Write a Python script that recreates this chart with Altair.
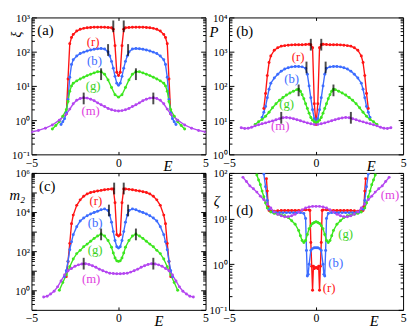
import math
import altair as alt
import pandas as pd

RED, BLUE, GREEN, MAGENTA = "#ff1414", "#3c6cff", "#3ce61e", "#b446f0"
TXT = {"r": "#ff1414", "b": "#3c6cff", "g": "#3cd21e", "m": "#e040e0"}
SERIES = ["r", "b", "g", "m"]
FONT = "Liberation Serif"
W, H = 178, 140

# ---------------- panel (a): xi ----------------
a_r_E = [-3.0,-2.9,-2.8,-2.7,-2.6,-2.4,-2.2,-2.0,-1.8,-1.6,-1.4,-1.2,-1.0,-0.8,-0.6,-0.4,-0.3,-0.2,-0.1,0.0,
         0.1,0.2,0.3,0.4,0.6,0.8,1.0,1.2,1.4,1.6,1.8,2.0,2.2,2.4,2.6,2.7,2.8,2.9,3.0]
a_r_v = [1.5,16,170,260,320,400,450,480,500,510,520,520,520,515,510,500,450,150,25,20,
         25,150,450,500,510,515,520,520,520,510,500,480,450,400,320,260,170,16,1.5]
a_b_E = [-3.3,-3.2,-3.1,-3.0,-2.9,-2.8,-2.7,-2.6,-2.4,-2.2,-2.0,-1.8,-1.6,-1.4,-1.2,-1.0,-0.8,-0.6,-0.5,-0.4,-0.3,-0.2,-0.1,0.0,
         0.1,0.2,0.3,0.4,0.5,0.6,0.8,1.0,1.2,1.4,1.6,1.8,2.0,2.2,2.4,2.6,2.7,2.8,2.9,3.0,3.1,3.2,3.3]
a_b_v = [0.75,0.9,1.1,1.6,4,18,42,58,75,88,97,105,112,118,122,124,120,98,75,52,33,19,12,10.5,
         12,19,33,52,75,98,120,124,122,118,112,105,97,88,75,58,42,18,4,1.6,1.1,0.9,0.75]
a_g_E = [-3.8,-3.6,-3.4,-3.2,-3.0,-2.9,-2.8,-2.7,-2.6,-2.4,-2.2,-2.0,-1.8,-1.6,-1.4,-1.2,-1.0,-0.8,-0.6,-0.4,-0.2,0.0,
         0.2,0.4,0.6,0.8,1.0,1.2,1.4,1.6,1.8,2.0,2.2,2.4,2.6,2.7,2.8,2.9,3.0,3.2,3.4,3.6,3.8]
a_g_v = [0.55,0.7,0.9,1.3,2.0,3.5,7,10,12,14,16,18,20,22,24,26,26,22,15,9,5.5,4.7,
         5.5,9,15,22,26,26,24,22,20,18,16,14,12,10,7,3.5,2.0,1.3,0.9,0.7,0.55]
a_m_E = [-5.0,-4.6,-4.2,-3.8,-3.4,-3.0,-2.8,-2.6,-2.4,-2.2,-2.0,-1.8,-1.6,-1.4,-1.2,-1.0,-0.8,-0.6,-0.4,-0.2,0.0,
         0.2,0.4,0.6,0.8,1.0,1.2,1.4,1.6,1.8,2.0,2.2,2.4,2.6,2.8,3.0,3.4,3.8,4.2,4.6,5.0]
a_m_v = [0.45,0.5,0.58,0.72,1.0,1.5,2.1,3.0,3.8,4.3,4.5,4.4,4.1,3.7,3.2,2.8,2.5,2.2,2.0,1.9,1.85,
         1.9,2.0,2.2,2.5,2.8,3.2,3.7,4.1,4.4,4.5,4.3,3.8,3.0,2.1,1.5,1.0,0.72,0.58,0.5,0.45]
a_edge_E = [-0.3, 0.3, -0.6, 0.55, -1.0, 1.0, -2.0, 2.0]
a_edge_v = [550, 550, 112, 112, 22, 22, 4.3, 4.3]
a_lab_E = [-1.46, -1.38, -1.46, -1.6]
a_lab_v = [195, 52, 10, 1.9]

# ---------------- panel (b): P ----------------
b_r_E = a_r_E
b_r_v = [22,60,200,480,750,1100,1300,1450,1500,1550,1580,1600,1600,1600,1620,1650,1600,1300,30,7.5,
         30,1300,1600,1650,1620,1600,1600,1600,1580,1550,1500,1450,1300,1100,750,480,200,60,22]
b_b_E = [-3.1,-3.0,-2.9,-2.8,-2.7,-2.6,-2.4,-2.2,-2.0,-1.8,-1.6,-1.4,-1.2,-1.0,-0.8,-0.6,-0.5,-0.4,-0.3,-0.2,-0.1,0.0,
         0.1,0.2,0.3,0.4,0.5,0.6,0.8,1.0,1.2,1.4,1.6,1.8,2.0,2.2,2.4,2.6,2.7,2.8,2.9,3.0,3.1]
b_b_v = [12,17,25,45,80,120,170,220,270,310,340,360,370,370,360,330,220,100,45,20,11,9,
         11,20,45,100,220,330,360,370,370,360,340,310,270,220,170,120,80,45,25,17,12]
b_g_E = [-3.5,-3.3,-3.1,-2.9,-2.7,-2.5,-2.3,-2.1,-1.9,-1.7,-1.5,-1.3,-1.1,-1.0,-0.9,-0.8,-0.7,-0.6,-0.5,-0.4,-0.3,-0.2,-0.1,0.0,
         0.1,0.2,0.3,0.4,0.5,0.6,0.7,0.8,0.9,1.0,1.1,1.3,1.5,1.7,1.9,2.1,2.3,2.5,2.7,2.9,3.1,3.3,3.5]
b_g_v = [7.5,9,10.5,13,17,23,30,38,46,54,62,70,78,80,70,55,42,30,22,16,12,10,9,8.5,
         9,10,12,16,22,30,42,55,70,80,78,70,62,54,46,38,30,23,17,13,10.5,9,7.5]
b_m_E = [-4.3,-4.1,-3.9,-3.7,-3.5,-3.3,-3.1,-2.9,-2.7,-2.5,-2.3,-2.1,-1.9,-1.7,-1.5,-1.3,-1.1,-0.9,-0.7,-0.5,-0.3,-0.1,
         0.1,0.3,0.5,0.7,0.9,1.1,1.3,1.5,1.7,1.9,2.1,2.3,2.5,2.7,2.9,3.1,3.3,3.5,3.7,3.9,4.1,4.3]
b_m_v = [6.0,5.7,5.8,6.2,6.8,7.3,7.8,8.3,8.9,9.5,10.2,11,11.8,12,11.6,11,10.3,9.6,8.9,8.3,7.8,7.5,
         7.5,7.8,8.3,8.9,9.6,10.3,11,11.6,12,11.8,11,10.2,9.5,8.9,8.3,7.8,7.3,6.8,6.2,5.8,5.7,6.0]
b_edge_E = [-0.3, 0.3, -0.55, 0.55, -1.0, 1.0, -2.0, 2.0]
b_edge_v = [1600, 1600, 345, 345, 74, 74, 11.7, 11.7]
b_lab_E = [-1.03, -1.4, -1.69, -2.06]
b_lab_v = [680, 160, 30, 6.5]

# ---------------- panel (c): m2 ----------------
c_r_E = a_r_E
c_r_v = [5,30,250,2500,7000,22000,42000,65000,85000,100000,110000,120000,128000,138000,145000,150000,150000,30000,700,600,
         700,30000,150000,150000,145000,138000,128000,120000,110000,100000,85000,65000,42000,22000,7000,2500,250,30,5]
c_b_E = b_b_E
c_b_v = [5,10,30,120,300,700,1800,3500,5000,6500,8000,9500,11000,13000,14500,12000,7000,3000,1000,350,170,145,
         170,350,1000,3000,7000,12000,14500,13000,11000,9500,8000,6500,5000,3500,1800,700,300,120,30,10,5]
c_g_E = [-3.4,-3.2,-3.0,-2.8,-2.6,-2.4,-2.2,-2.0,-1.8,-1.6,-1.4,-1.2,-1.0,-0.8,-0.6,-0.4,-0.3,-0.2,-0.1,0.0,
         0.1,0.2,0.3,0.4,0.6,0.8,1.0,1.2,1.4,1.6,1.8,2.0,2.2,2.4,2.6,2.8,3.0,3.2,3.4]
c_g_v = [1.0,2.5,6,16,40,75,110,170,230,320,450,600,750,600,350,160,80,45,32,30,
         32,45,80,160,350,600,750,600,450,320,230,170,110,75,40,16,6,2.5,1.0]
c_m_E = b_m_E
c_m_v = [0.45,0.5,0.65,0.9,1.5,3,6,10,13,17,20,22,23,21,18,15,12,10,8.5,7.5,7.2,7.0,
         7.0,7.2,7.5,8.5,10,12,15,18,21,23,22,20,17,13,10,6,3,1.5,0.9,0.65,0.5,0.45]
c_edge_E = [-0.25, 0.3, -0.55, 0.55, -1.0, 1.0, -2.0, 2.0]
c_edge_v = [160000, 160000, 12000, 12000, 720, 720, 23, 23]
c_lab_E = [-1.3, -1.34, -1.34, -1.57]
c_lab_v = [37000, 2700, 112, 3.9]

# ---------------- panel (d): zeta ----------------
d_r_E = [-2.85,-2.8,-2.75,-2.7,-2.6,-2.4,-2.2,-2.0,-1.8,-1.6,-1.4,-1.2,-1.0,-0.8,-0.6,-0.4,-0.35,-0.3,-0.25,-0.2,-0.15,-0.1,0.0,
         0.1,0.15,0.2,0.25,0.3,0.35,0.4,0.6,0.8,1.0,1.2,1.4,1.6,1.8,2.0,2.2,2.4,2.6,2.7,2.75,2.8,2.85]
d_r_v = [75,40,18,15,14.5,14.5,14.8,15,15,15,15,15,15,15.2,15.5,15.5,15,3,0.9,0.27,0.9,0.8,0.85,
         0.8,0.9,0.27,0.9,3,15,15.5,15.5,15.2,15,15,15,15,15,15,14.8,14.5,14.5,15,18,40,75]
d_b_E = [-3.0,-2.9,-2.8,-2.7,-2.5,-2.3,-2.1,-1.9,-1.7,-1.5,-1.3,-1.1,-0.9,-0.7,-0.6,-0.55,-0.5,-0.45,-0.4,-0.3,-0.2,-0.1,0.0,
         0.1,0.2,0.3,0.4,0.45,0.5,0.55,0.6,0.7,0.9,1.1,1.3,1.5,1.7,1.9,2.1,2.3,2.5,2.7,2.8,2.9,3.0]
d_b_v = [95,50,25,16,14,13.5,13.5,13.5,13.5,13.5,13.5,13.5,13.5,13,10,2,0.55,0.6,1.0,2.0,2.2,2.3,2.3,
         2.3,2.2,2.0,1.0,0.6,0.55,2,10,13,13.5,13.5,13.5,13.5,13.5,13.5,13.5,13.5,14,16,25,50,95]
d_g_E = [-3.4,-3.3,-3.2,-3.1,-3.0,-2.9,-2.8,-2.6,-2.4,-2.2,-2.0,-1.8,-1.6,-1.4,-1.2,-1.0,-0.9,-0.8,-0.7,-0.6,-0.5,-0.4,-0.3,-0.2,-0.1,0.0,
         0.1,0.2,0.3,0.4,0.5,0.6,0.7,0.8,0.9,1.0,1.2,1.4,1.6,1.8,2.0,2.2,2.4,2.6,2.8,2.9,3.0,3.1,3.2,3.3,3.4]
d_g_v = [90,70,55,40,30,22,17,14,13,12.5,12,11.5,10.5,9,7.5,5.5,4.2,3.3,3.0,3.3,4.5,6,7,7.8,8.2,8.5,
         8.2,7.8,7,6,4.5,3.3,3.0,3.3,4.2,5.5,7.5,9,10.5,11.5,12,12.5,13,14,17,22,30,40,55,70,90]
d_m_E = [-4.2,-4.0,-3.8,-3.6,-3.4,-3.2,-3.0,-2.8,-2.6,-2.4,-2.2,-2.0,-1.8,-1.6,-1.4,-1.2,-1.0,-0.8,-0.6,-0.4,-0.2,0.0,
         0.2,0.4,0.6,0.8,1.0,1.2,1.4,1.6,1.8,2.0,2.2,2.4,2.6,2.8,3.0,3.2,3.4,3.6,3.8,4.0,4.2]
d_m_v = [80,65,52,45,38,31,26,21,17,14,12.5,11.5,11,11,11.5,12.5,14,15.5,17,18,18.5,18.5,
         18.5,18,17,15.5,14,12.5,11.5,11,11,11.5,12.5,14,17,21,26,31,38,45,52,65,80]
d_lab_E = [0.75, 1.13, 1.7, 4.25]
d_lab_v = [0.3, 1.05, 4.5, 32]
d_lab_order = ["r", "b", "g", "m"]

tag_E = [-4.2, -4.1, -4.1, -4.1]
tag_v = [425, 4000, 224000, 15]
tag_t = ["(a)", "(b)", "(c)", "(d)"]

SUP = {-1: "\u207b\u00b9", 0: "\u2070", 1: "\u00b9", 2: "\u00b2", 3: "\u00b3", 4: "\u2074", 6: "\u2076"}


def label_expr(exps):
    expr = "''"
    for k in exps:
        expr = f"round(log(datum.value)/LN10) == {k} ? '10{SUP[k]}' : " + expr
    return expr


def make_frame(series):
    rows = []
    for s, (E, v) in series.items():
        assert len(E) == len(v), s
        rows += [{"E": e, "v": y, "s": s} for e, y in zip(E, v)]
    return pd.DataFrame(rows)


def panel(series, edges, labels, tag_idx, dom, labeled, ytitle, tangle, tsize, tx, ty, ex):
    df = make_frame(series)
    lo, hi = dom
    k0, k1 = round(math.log10(lo)), round(math.log10(hi))
    majors = [10.0 ** k for k in range(k0, k1 + 1)]
    minors = [m * 10.0 ** k for k in range(k0, k1) for m in range(2, 10)]
    xs = alt.Scale(domain=[-5, 5], nice=False, zero=False)
    ys = alt.Scale(type="log", domain=[lo, hi], nice=False)
    cs = alt.Scale(domain=SERIES, range=[RED, BLUE, GREEN, MAGENTA])
    xaxis = alt.Axis(values=[-5, 0, 5],
                     labelExpr="datum.value < 0 ? '\u2212' + abs(datum.value) : '' + datum.value",
                     ticks=False, tickSize=0, domain=False, grid=False, labelFlush=False,
                     labelPadding=3, labelFont=FONT, labelFontSize=12, labelColor="black",
                     title="E", titleFont=FONT, titleFontStyle="italic",
                     titleFontWeight="normal", titleFontSize=15, titleX=ex, titleY=11,
                     titleAlign="center", titleBaseline="middle")
    yaxis = alt.Axis(values=[10.0 ** k for k in labeled], labelExpr=label_expr(labeled),
                     ticks=False, tickSize=0, domain=False, grid=False, labelPadding=2,
                     labelOffset=1, labelFont=FONT, labelFontSize=11, labelColor="black",
                     title=ytitle, titleFont=FONT, titleFontStyle="italic", titleFontWeight="normal",
                     titleFontSize=tsize, titleAngle=tangle, titleX=tx, titleY=ty,
                     titleAlign="center", titleBaseline="middle")
    base = alt.Chart(df)
    lines = base.mark_line(strokeWidth=1.4, clip=True).encode(
        x=alt.X("E:Q", scale=xs, axis=xaxis),
        y=alt.Y("v:Q", scale=ys, axis=yaxis),
        color=alt.Color("s:N", scale=cs, legend=None),
        detail="s:N")
    pts = base.mark_circle(size=9, opacity=1, clip=True).encode(
        x=alt.X("E:Q", axis=None), y=alt.Y("v:Q", axis=None),
        color=alt.Color("s:N", scale=cs, legend=None))

    def inward(orient, vals, size, off):
        return alt.Axis(orient=orient, offset=-off, values=vals, tickSize=size,
                        ticks=True, labels=False, domain=False, grid=False,
                        title="", tickColor="black", tickWidth=1)

    def ytick_layer(orient, vals, size):
        return base.mark_point(opacity=0).encode(
            x=alt.X("E:Q", axis=None), y=alt.Y("v:Q", axis=inward(orient, vals, size, W)))

    def xtick_layer(orient):
        return base.mark_point(opacity=0).encode(
            x=alt.X("E:Q", axis=inward(orient, [0], 3, H)), y=alt.Y("v:Q", axis=None))

    layers = [lines, pts]
    if edges is not None:
        edf = pd.DataFrame({"E": edges[0], "v": edges[1]})
        layers.append(alt.Chart(edf).mark_tick(orient="vertical", size=12, thickness=2, color="black").encode(
            x=alt.X("E:Q", axis=None), y=alt.Y("v:Q", axis=None)))
    ldf = pd.DataFrame({"E": labels[0], "v": labels[1], "t": ["(" + s + ")" for s in labels[2]],
                        "c": [TXT[s] for s in labels[2]]})
    layers.append(alt.Chart(ldf).mark_text(font=FONT, fontSize=13).encode(
        x=alt.X("E:Q", axis=None), y=alt.Y("v:Q", axis=None), text="t:N",
        color=alt.Color("c:N", scale=None)))
    tdf = pd.DataFrame({"E": [tag_E[tag_idx]], "v": [tag_v[tag_idx]], "t": [tag_t[tag_idx]]})
    layers.append(alt.Chart(tdf).mark_text(font=FONT, fontSize=15, color="black").encode(
        x=alt.X("E:Q", axis=None), y=alt.Y("v:Q", axis=None), text="t:N"))
    layers += [ytick_layer("right", majors, 5), ytick_layer("right", minors, 3),
               ytick_layer("left", majors, 5), ytick_layer("left", minors, 3),
               xtick_layer("top"), xtick_layer("bottom")]
    return alt.layer(*layers).resolve_axis(x="independent", y="independent").properties(width=W, height=H)


A = panel({"r": (a_r_E, a_r_v), "b": (a_b_E, a_b_v), "g": (a_g_E, a_g_v), "m": (a_m_E, a_m_v)},
          (a_edge_E, a_edge_v), (a_lab_E, a_lab_v, SERIES), 0, (0.1, 1000), [-1, 0, 1, 2, 3],
          "\u03be", 270, 14, -15, 17, 139)
B = panel({"r": (b_r_E, b_r_v), "b": (b_b_E, b_b_v), "g": (b_g_E, b_g_v), "m": (b_m_E, b_m_v)},
          (b_edge_E, b_edge_v), (b_lab_E, b_lab_v, SERIES), 1, (1, 10000), [0, 1, 2, 3, 4],
          "P", 0, 15, -16, 14, 145)
C = panel({"r": (c_r_E, c_r_v), "b": (c_b_E, c_b_v), "g": (c_g_E, c_g_v), "m": (c_m_E, c_m_v)},
          (c_edge_E, c_edge_v), (c_lab_E, c_lab_v, SERIES), 2, (0.1, 1e6), [0, 2, 4, 6],
          "m\u2082", 0, 15, -15, 22, 130)
D = panel({"r": (d_r_E, d_r_v), "b": (d_b_E, d_b_v), "g": (d_g_E, d_g_v), "m": (d_m_E, d_m_v)},
          None, (d_lab_E, d_lab_v, d_lab_order), 3, (0.1, 100), [-1, 0, 1, 2],
          "\u03b6", 0, 15, -13, 28, 148)

chart = alt.concat(
    A, B, C, D, columns=2, spacing={"row": 19, "column": 24}, bounds="flush",
).properties(
    padding={"left": 0, "top": 0, "right": 0, "bottom": 0}, background="white"
).configure_view(stroke="black", strokeWidth=1).configure_axis(
    labelFont=FONT, labelFontSize=12, labelColor="black")

chart.save("out.html", embed_options={"renderer": "svg", "actions": False})
